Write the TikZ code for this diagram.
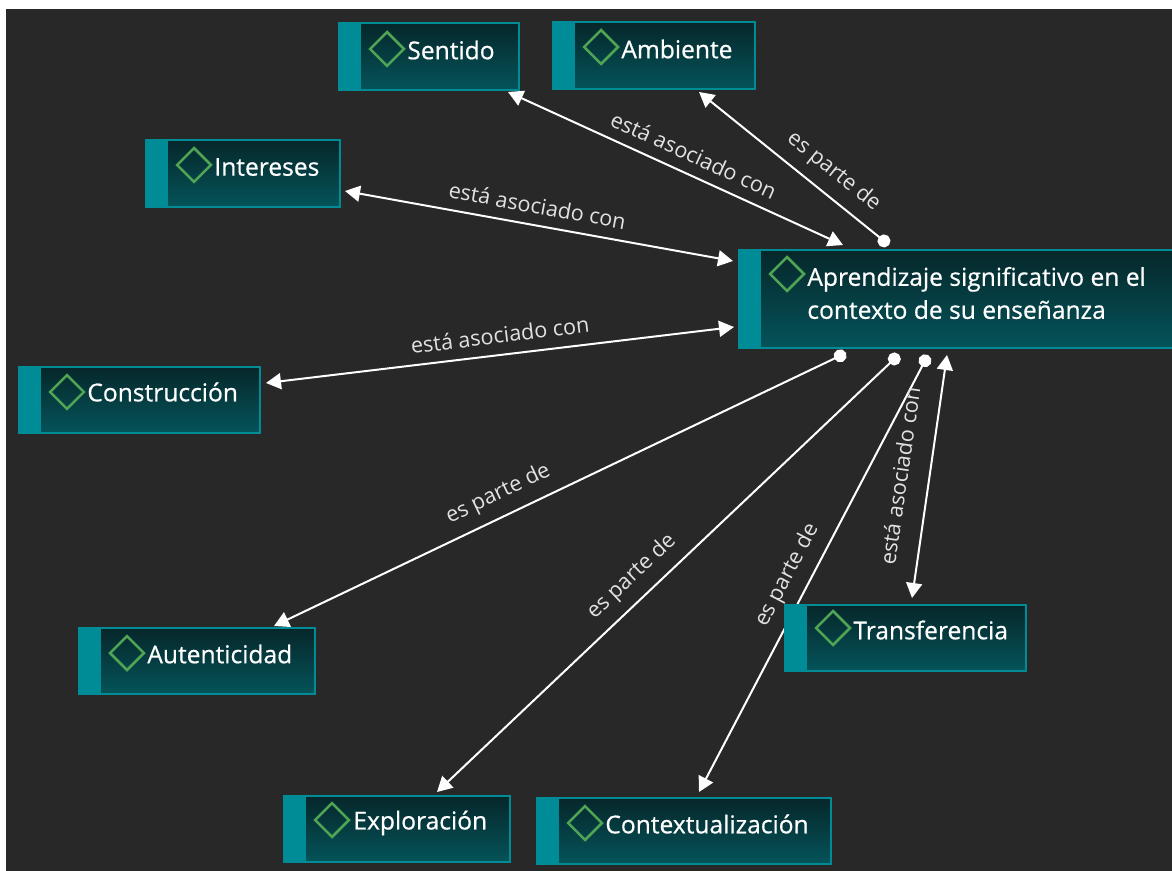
\documentclass[tikz,border=0pt]{standalone}
\usepackage{fontspec}
\setmainfont{Open Sans}
\usetikzlibrary{arrows.meta,shapes.geometric}
\definecolor{canvasgray}{HTML}{282828}
\definecolor{bandteal}{HTML}{008C96}
\definecolor{boxtop}{HTML}{06272A}
\definecolor{boxbottom}{HTML}{04545A}
\definecolor{markgreen}{HTML}{4FA553}
\definecolor{linklabel}{HTML}{E2E2E2}
\pgfdeclarelayer{canvas}
\pgfdeclarelayer{links}
\pgfsetlayers{canvas,links,main}
\tikzset{
    conceptbox/.style 2 args={anchor=north west,inner sep=0pt,draw=bandteal,line width=0.04cm,
        top color=boxtop,bottom color=boxbottom,
        minimum width=(#1-1)*0.02cm,minimum height=(#2-1)*0.02cm,
        path picture={\fill[bandteal] (path picture bounding box.north west) rectangle
            ([xshift=0.44cm]path picture bounding box.south west);}},
    linktext/.style={sloped,above=4pt,inner sep=2pt,text=linklabel,font=\fontsize{12.3}{14}\selectfont}
}

\begin{document}
\begin{tikzpicture}[x=0.02cm,y=-0.02cm]
        \useasboundingbox (0,0) rectangle (1172,871);
        \begin{pgfonlayer}{canvas}
            \fill[white] (0,0) rectangle (1172,871);
            \fill[canvasgray] (6,9) rectangle (1172,871);
        \end{pgfonlayer}

        % boxes
        \node[conceptbox={442}{99}] (main) at (738,249) {};
        \node[conceptbox={181}{68}] (sentido) at (338,22) {};
        \node[conceptbox={203}{68}] (ambiente) at (552,21) {};
        \node[conceptbox={195}{68}] (intereses) at (145,139) {};
        \node[conceptbox={242}{67}] (construccion) at (18,366) {};
        \node[conceptbox={237}{67}] (autenticidad) at (78,627) {};
        \node[conceptbox={227}{67}] (exploracion) at (283,795) {};
        \node[conceptbox={295}{67}] (contextualizacion) at (536,797) {};
        \node[conceptbox={242}{67}] (transferencia) at (784,604) {};

        \begin{scope}[every node/.style={diamond,draw=markgreen,line width=0.05cm,aspect=1,
                    inner sep=0pt,minimum width=0.7cm,minimum height=0.7cm}]
            \node (main mark) at (787,274) {};
            \node (sentido mark) at (387,49) {};
            \node (ambiente mark) at (601,47) {};
            \node (intereses mark) at (194,165) {};
            \node (construccion mark) at (67,392) {};
            \node (autenticidad mark) at (127,653) {};
            \node (exploracion mark) at (332,820) {};
            \node (contextualizacion mark) at (585,823) {};
            \node (transferencia mark) at (833,628) {};
        \end{scope}

        \begin{scope}[every node/.style={anchor=west,inner sep=0pt,text=white,align=left,
                    font=\fontsize{14}{18.8}\selectfont\addfontfeatures{FakeBold=0.6}}]
            \node (main text) at (807,293) {Aprendizaje significativo en el\\contexto de su enseñanza};
            \node (sentido text) at (407,50) {Sentido};
            \node (ambiente text) at (621,49) {Ambiente};
            \node (intereses text) at (214,167) {Intereses};
            \node (construccion text) at (87,392) {Construcción};
            \node (autenticidad text) at (147,654) {Autenticidad};
            \node (exploracion text) at (353,823) {Exploración};
            \node (contextualizacion text) at (605,824) {Contextualización};
            \node (transferencia text) at (853,630) {Transferencia};
        \end{scope}

        \begin{pgfonlayer}{links}
        \begin{scope}[>={Triangle[length=0.3cm,width=0.32cm]},
                    every edge/.style={draw=white,line width=0.04cm}]
            \path [<->] ([shift={(-12,1)}]sentido.south east) edge node[linktext,pos=0.53] (label sentido) {está asociado con} ([shift={(105,-4)}]main.north west);
            \path [<-{Circle[length=0.26cm]}] ([shift={(147,2)}]ambiente.south west) edge node[linktext,pos=0.635] (label ambiente) {es parte de} ([shift={(151,-4)}]main.north west);
            \path [<->] ([shift={(4,-17)}]intereses.south east) edge node[linktext,pos=0.487] (label intereses) {está asociado con} ([shift={(-5,12)}]main.north west);
            \path [<->] ([shift={(5,17)}]construccion.north east) edge node[linktext,pos=0.505] (label construccion) {está asociado con} ([shift={(-4,-22)}]main.south west);
            \path [<-{Circle[length=0.26cm]}] ([shift={(-42,-1)}]autenticidad.north east) edge node[linktext,pos=0.409] (label autenticidad) {es parte de} ([shift={(108,4)}]main.south west);
            \path [<-{Circle[length=0.26cm]}] ([shift={(154,-3)}]exploracion.north west) edge node[linktext,pos=0.455] (label exploracion) {es parte de} ([shift={(161,5.5)}]main.south west);
            \path [<-{Circle[length=0.26cm]}] ([shift={(163,-5)}]contextualizacion.north west) edge node[linktext,pos=0.472] (label contextualizacion) {es parte de} ([shift={(190,6)}]main.south west);
            \path [<->] ([shift={(128,-6)}]transferencia.north west) edge node[linktext,above=5.5pt,pos=0.485] (label transferencia) {está asociado con} ([shift={(209,6)}]main.south west);
        \end{scope}
        \end{pgfonlayer}
    \end{tikzpicture}
\end{document}
